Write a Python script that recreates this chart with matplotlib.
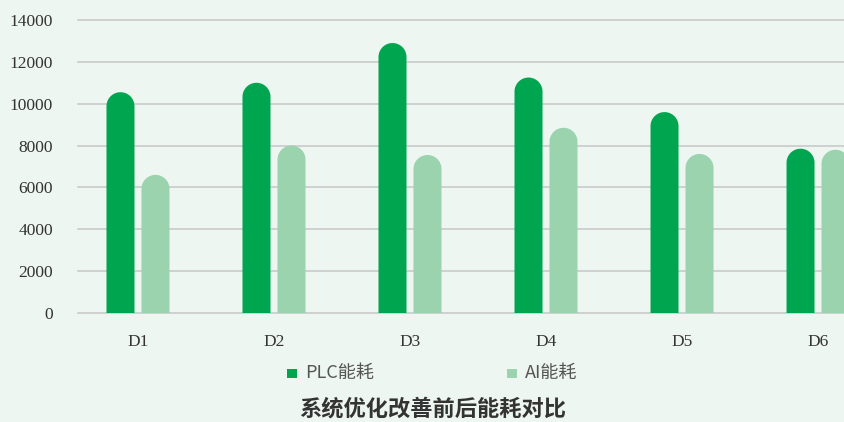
import matplotlib.pyplot as plt
import numpy as np
from matplotlib.patches import Rectangle, Polygon

# ---- data ----
kategori = ['D1', 'D2', 'D3', 'D4', 'D5', 'D6']
plc_energi = [10550, 11000, 12900, 11250, 9600, 7850]
ai_energi = [6600, 8000, 7550, 8850, 7600, 7800]
yticks = [0, 2000, 4000, 6000, 8000, 10000, 12000, 14000]

warna_plc = '#00a64f'
warna_ai = '#9bd3ae'
warna_bg = '#eef6f1'

plt.rcParams['font.family'] = ['Noto Sans CJK SC', 'DejaVu Sans']

W, H, DPI = 844, 422, 100
fig = plt.figure(figsize=(W / DPI, H / DPI), dpi=DPI, facecolor=warna_bg)

# axes in pixel terms: left 78, right 844, top 20, bottom 313
ax_l, ax_r, ax_t, ax_b = 78, 844, 20, 313
ax = fig.add_axes([ax_l / W, 1 - ax_b / H, (ax_r - ax_l) / W, (ax_b - ax_t) / H])
ax.set_facecolor(warna_bg)

x = np.arange(len(kategori))
ax.set_xlim(-0.441, 5.191)
ax.set_ylim(0, 14000)

# bar geometry: rounded top is a half circle on screen
px_per_x = (ax_r - ax_l) / (5.191 + 0.441)
lebar = 28 / px_per_x
offset = 17.5 / px_per_x
r_data = 14 * 14000 / (ax_b - ax_t)
t = np.linspace(np.pi, 0, 40)


def bar_bulat(xc, v, warna):
    h = v - r_data
    busur = np.column_stack([xc + lebar / 2 * np.cos(t), h + r_data * np.sin(t)])
    titik = np.vstack([[xc - lebar / 2, 0], busur, [xc + lebar / 2, 0]])
    ax.add_patch(Polygon(titik, closed=True, facecolor=warna, edgecolor='none',
                         zorder=3, clip_on=False))


for vals, dx, warna in [(plc_energi, -offset, warna_plc), (ai_energi, offset, warna_ai)]:
    for xi, v in zip(x + dx, vals):
        bar_bulat(xi, v, warna)

ax.set_yticks(yticks)
ax.set_yticklabels([str(v) for v in yticks], family='Liberation Serif', fontsize=12.5, color='#333333')
ax.set_xticks(x)
ax.set_xticklabels(kategori, family='Liberation Serif', fontsize=12.5, color='#333333')
ax.tick_params(axis='y', length=0, pad=18)
ax.tick_params(axis='x', length=0, pad=15)

ax.grid(axis='y', color='#c6c6c6', linewidth=1.1, zorder=0)
for g in ax.get_ygridlines():
    g.set_clip_on(False)
for s in ax.spines.values():
    s.set_visible(False)

# legend (manual)
def kotak(xp, warna):
    fig.patches.append(Rectangle((xp / W, 1 - 378 / H), 10 / W, 9 / H,
                                 transform=fig.transFigure, color=warna, linewidth=0))

kotak(287, warna_plc)
fig.text(305 / W, 1 - 373 / H, 'PLC能耗', fontsize=13, color='#555555', va='center', ha='left')
kotak(507, warna_ai)
fig.text(525 / W, 1 - 373 / H, 'AI能耗', fontsize=13, color='#555555', va='center', ha='left')

fig.text(433 / W, 1 - 409 / H, '系统优化改善前后能耗对比', fontsize=16, fontweight='bold',
         color='#333333', ha='center', va='center')

fig.savefig('out.png', dpi=DPI, facecolor=warna_bg)
